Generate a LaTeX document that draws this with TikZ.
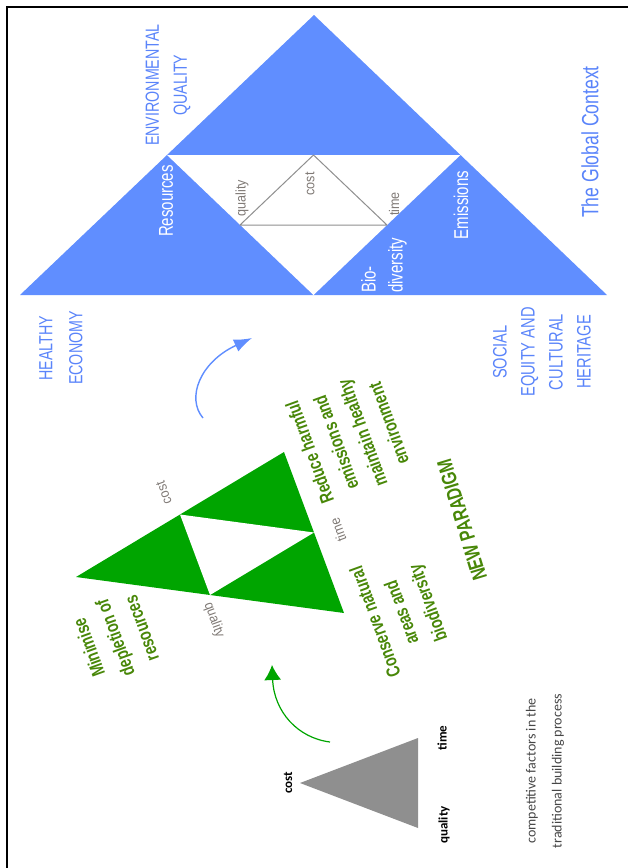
\documentclass[tikz,border=0pt]{standalone}
\usepackage{fontspec}
\setmainfont{Liberation Sans}
\newfontfamily\narrowfont[FakeStretch=0.75]{Liberation Sans}
\newfontfamily\labfont[FakeStretch=0.9]{Liberation Sans}
\newfontfamily\calfont{Carlito}
\usetikzlibrary{arrows.meta,calc}
\definecolor{bluet}{RGB}{96,142,255}
\definecolor{bluetext}{RGB}{90,132,250}
\definecolor{greenfill}{RGB}{0,165,0}
\definecolor{greentext}{RGB}{72,135,8}
\definecolor{lblgray}{RGB}{128,122,118}
\definecolor{trigray}{RGB}{143,143,143}
\definecolor{compgray}{RGB}{70,70,70}
\tikzset{
  bluelbl/.style={text=bluetext, font={\narrowfont\fontsize{19}{28}\selectfont}, align=center, inner sep=0pt, rotate=90},
  whitelbl/.style={text=white, font={\narrowfont\fontsize{20}{27}\selectfont}, inner sep=0pt, rotate=90},
  graylbl/.style={text=lblgray, font={\labfont\fontsize{14}{16}\selectfont}, inner sep=0pt},
  greenlbl/.style={text=greentext, font={\narrowfont\bfseries\fontsize{19}{28}\selectfont}, align=center, inner sep=0pt, rotate=110},
  blacklbl/.style={text=black, font={\calfont\bfseries\fontsize{13}{15}\selectfont}, inner sep=0pt, rotate=90},
  bluearrow/.style={draw=bluet, line width=1.4pt, -{Latex[length=18pt,width=13pt]}},
  greenarrow/.style={draw=greenfill, line width=1.2pt, -{Latex[length=15pt,width=17pt]}},
}
\begin{document}
\begin{tikzpicture}[x=1pt,y=-1pt]
\useasboundingbox (0,0) rectangle (627,868);
% frame
\draw[line width=2pt, line cap=rect] (7,868) -- (7,7) -- (627,7);

% big blue triangle (the global context)
\coordinate (BA) at (314,15);
\coordinate (BL) at (20,295);
\coordinate (BR) at (607,295);
\fill[bluet] (BA) -- (BL) -- (BR) -- cycle;
\coordinate (Bm1) at (167,155);
\coordinate (Bm2) at (460.5,155);
\coordinate (Bm3) at (313.5,295);
\fill[white] (Bm1) -- (Bm2) -- (Bm3) -- cycle;
% inner gray triangle
\coordinate (Gq) at (240,225);
\coordinate (Gc) at (313.5,155);
\coordinate (Gt) at (387,225);
\draw[draw=trigray, line width=1pt, line join=round] (Gc) -- (Gq) -- (Gt) -- cycle;

\node[bluelbl] (envq) at (168,85) {ENVIRONMENTAL\\QUALITY};
\node[whitelbl] (res) at (166,201) {Resources};
\node[whitelbl] (emi) at (461,205) {Emissions};
\node[whitelbl, align=left, anchor=west] (bio) at (384,293) {Bio-\\diversity};
\node[graylbl, rotate=90] (bq) at (242,198) {quality};
\node[graylbl, rotate=90] (bc) at (310,184) {cost};
\node[graylbl, rotate=90] (bt) at (394,204) {time};
\node[text=bluetext, font={\narrowfont\fontsize{23.5}{28}\selectfont}, inner sep=0pt, rotate=90] (glob) at (590,142) {The Global Context};

\node[bluelbl, font={\narrowfont\fontsize{19}{30}\selectfont}] (heco) at (61,348) {HEALTHY\\ECONOMY};
\node[bluelbl, font={\narrowfont\fontsize{19.5}{28}\selectfont}] (soc) at (542,352) {SOCIAL\\EQUITY AND\\CULTURAL\\HERITAGE};

% blue arrow
\coordinate (ba0) at (203,418);
\coordinate (ba1) at (252,338);
\draw[bluearrow] (ba0) .. controls (186,398) and (200,362) .. (ba1);

% green triangle (new paradigm)
\coordinate (NA) at (284,452);
\coordinate (NB) at (76,577);
\coordinate (NC) at (344,613);
\fill[greenfill] (NA) -- (NB) -- (NC) -- cycle;
\fill[white] ($(NA)!0.5!(NB)$) -- ($(NA)!0.5!(NC)$) -- ($(NB)!0.5!(NC)$) -- cycle;
\node[graylbl, rotate=110] (nc) at (164,493) {cost};
\node[graylbl, rotate=110] (nt) at (338,530) {time};
\node[graylbl, rotate=-70] (nq) at (214,620) {quality};

\node[greenlbl] (red) at (349,438) {Reduce harmful\\emissions and\\maintain healthy\\environment};
\node[greenlbl] (cons) at (403,612) {Conserve natural\\areas and\\biodiversity};
\node[greenlbl] (mini) at (115,638) {Minimise\\depletion of\\resources};
\node[greenlbl, font={\narrowfont\bfseries\fontsize{21}{24}\selectfont}, rotate=-3] (newp) at (462,520) {NEW PARADIGM};

% green arrow
\coordinate (ga0) at (330,742);
\coordinate (ga1) at (272,665);
\draw[greenarrow] (ga0) .. controls (298,738) and (274,712) .. (ga1);

% gray traditional triangle
\coordinate (TC) at (300,783);
\coordinate (TT) at (418,738);
\coordinate (TQ) at (418,828);
\fill[trigray] (TC) -- (TT) -- (TQ) -- cycle;
\node[blacklbl] (tcost) at (288,783) {cost};
\node[blacklbl] (ttime) at (442,738) {time};
\node[blacklbl] (tqual) at (444,825) {quality};
\node[text=compgray, font={\calfont\fontsize{14}{26}\selectfont}, align=center, inner sep=0pt, rotate=90] (comp) at (545,771) {competitive factors in the\\traditional building process};
\end{tikzpicture}
\end{document}
